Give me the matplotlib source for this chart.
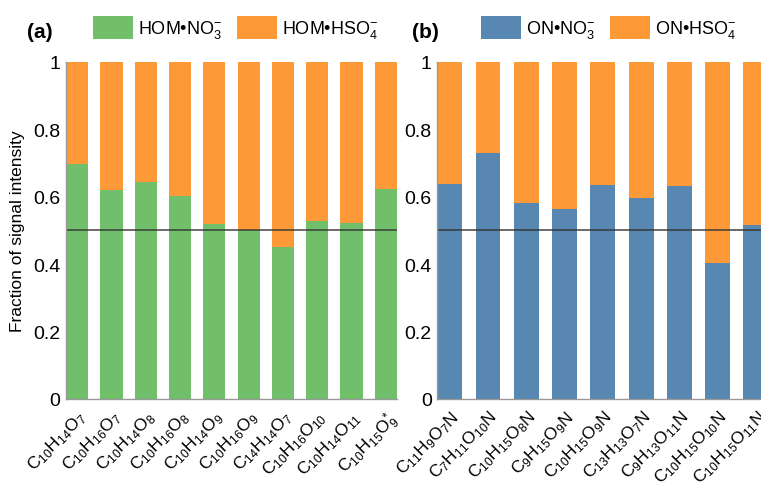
import matplotlib

matplotlib.use("Agg")
import matplotlib.pyplot as plt
from matplotlib.patches import Patch

plt.rcParams["font.family"] = ["Liberation Sans", "DejaVu Sans"]
plt.rcParams["mathtext.fontset"] = "custom"
plt.rcParams["mathtext.rm"] = "Liberation Sans"
plt.rcParams["mathtext.it"] = "Liberation Sans:italic"
plt.rcParams["mathtext.bf"] = "Liberation Sans:bold"

# panel (a): HOM clusters
hom_labels = [
    r"C$_{10}$H$_{14}$O$_{7}$", r"C$_{10}$H$_{16}$O$_{7}$", r"C$_{10}$H$_{14}$O$_{8}$",
    r"C$_{10}$H$_{16}$O$_{8}$", r"C$_{10}$H$_{14}$O$_{9}$", r"C$_{10}$H$_{16}$O$_{9}$",
    r"C$_{14}$H$_{14}$O$_{7}$", r"C$_{10}$H$_{16}$O$_{10}$", r"C$_{10}$H$_{14}$O$_{11}$",
    r"C$_{10}$H$_{15}$O$_{9}^{*}$",
]
hom_no3 = [0.698, 0.620, 0.642, 0.602, 0.518, 0.500, 0.450, 0.529, 0.523, 0.624]

# panel (b): ON clusters (last one cut off at the right edge)
on_labels = [
    r"C$_{11}$H$_{9}$O$_{7}$N", r"C$_{7}$H$_{11}$O$_{10}$N", r"C$_{10}$H$_{15}$O$_{8}$N",
    r"C$_{9}$H$_{15}$O$_{9}$N", r"C$_{10}$H$_{15}$O$_{9}$N", r"C$_{13}$H$_{13}$O$_{7}$N",
    r"C$_{9}$H$_{13}$O$_{11}$N", r"C$_{10}$H$_{15}$O$_{10}$N", r"C$_{10}$H$_{15}$O$_{11}$N",
]
on_no3 = [0.637, 0.729, 0.582, 0.562, 0.635, 0.596, 0.632, 0.402, 0.515]

yticks = [0, 0.2, 0.4, 0.6, 0.8, 1.0]
ytick_labels = ["0", "0.2", "0.4", "0.6", "0.8", "1"]

GREEN = "#71be6b"
BLUE = "#5888b1"
ORANGE = "#fd9936"
W = 0.65

fig = plt.figure(figsize=(7.61, 4.85), dpi=100)
ax_a = fig.add_axes([66 / 761, 85 / 485, 331 / 761, 337.3 / 485])
ax_b = fig.add_axes([437.3 / 761, 85 / 485, 331 / 761, 337.3 / 485])


def panel(ax, labels, no3, c_low, tag, leg_names, leg_x):
    x = range(len(no3))
    hso4 = [1 - v for v in no3]
    ax.bar(x, no3, W, color=c_low, edgecolor="none")
    ax.bar(x, hso4, W, bottom=no3, color=ORANGE, edgecolor="none")
    ax.axhline(0.5, color="#333333", lw=1.2, alpha=0.85)
    ax.set_xlim(-W / 2, len(no3) - 1 + W / 2)
    ax.set_ylim(0, 1)
    ax.set_yticks(yticks)
    ax.set_yticklabels(ytick_labels, fontsize=14)
    ax.set_xticks(list(x))
    ax.set_xticklabels(labels, fontsize=12.5, rotation=45, ha="right", va="top",
                       rotation_mode="anchor")
    ax.tick_params(axis="x", length=0, pad=6)
    ax.tick_params(axis="y", length=0, pad=4)
    for s in ("top", "right"):
        ax.spines[s].set_visible(False)
    for s in ("left", "bottom"):
        ax.spines[s].set_color("#999999")
        ax.spines[s].set_linewidth(1.0)
    ax.text(tag[0], tag[1], tag[2], transform=fig.transFigure, fontsize=15,
            fontweight="bold", ha="left", va="center")
    handles = [Patch(facecolor=c_low), Patch(facecolor=ORANGE)]
    fig.legend(handles, leg_names, loc="center left", bbox_to_anchor=(leg_x, 1 - 29 / 485),
               ncol=2, frameon=False, fontsize=13, handlelength=2.2, handleheight=1.6,
               handletextpad=0.3, columnspacing=0.8, borderaxespad=0, borderpad=0)


panel(ax_a, hom_labels, hom_no3, GREEN, (27 / 761, 1 - 33 / 485, "(a)"),
      [r"HOM•NO$_3^{-}$", r"HOM•HSO$_4^{-}$"], 93 / 761)
panel(ax_b, on_labels, on_no3, BLUE, (412 / 761, 1 - 33 / 485, "(b)"),
      [r"ON•NO$_3^{-}$", r"ON•HSO$_4^{-}$"], 481 / 761)

ax_a.set_ylabel("Fraction of signal intensity", fontsize=12.5, labelpad=6)

fig.savefig("out.png", dpi=100)
